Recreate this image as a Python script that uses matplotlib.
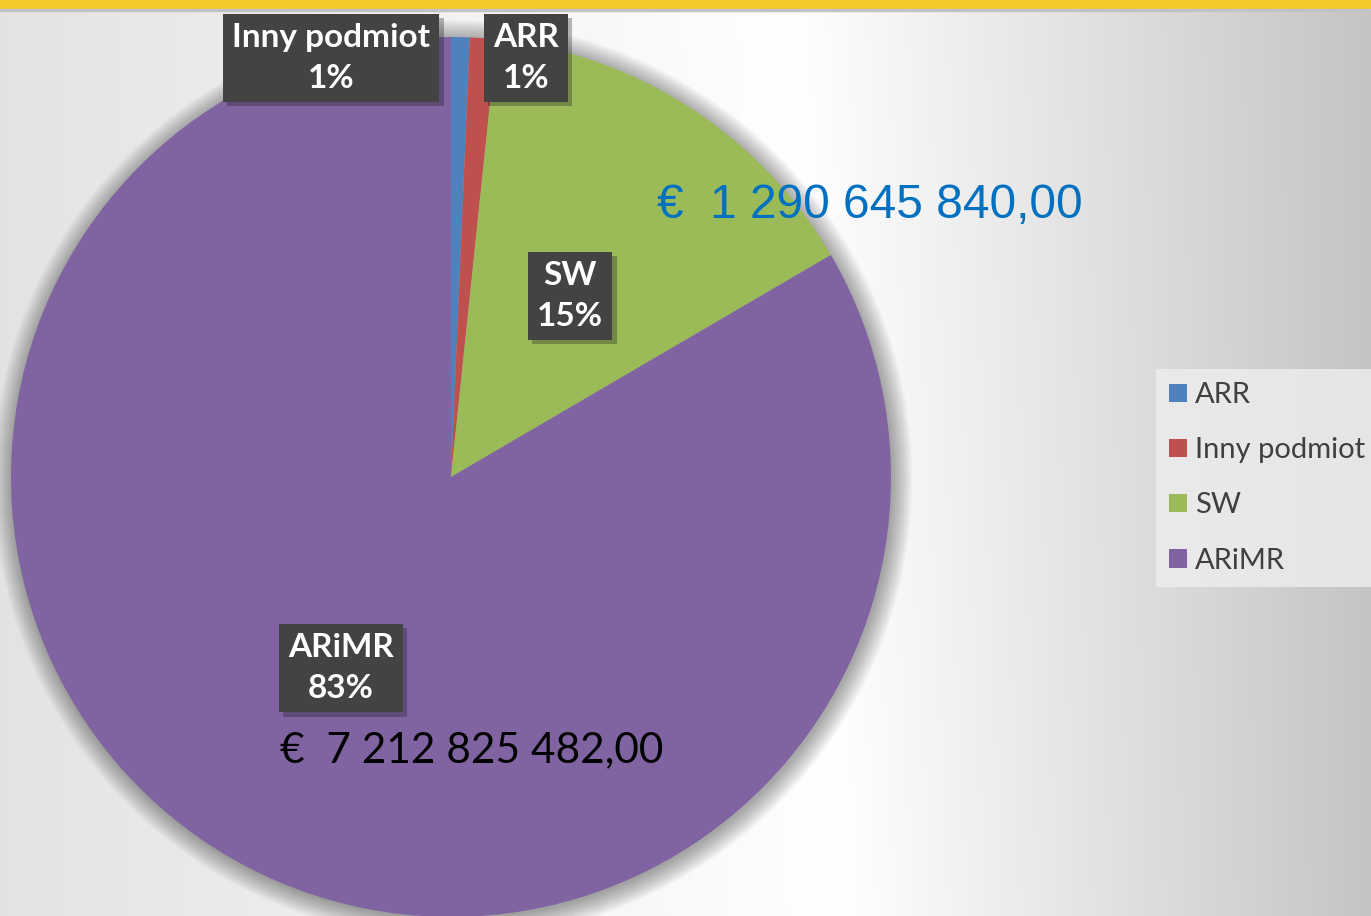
import numpy as np
import matplotlib
matplotlib.use("Agg")
import matplotlib.pyplot as plt
import matplotlib.patheffects as pe
from matplotlib.patches import Circle, Rectangle

# dane
kategorie = ['ARR', 'Inny podmiot', 'SW', 'ARiMR']
kwoty = [59_000_000, 84_000_000, 1_290_645_840, 7_212_825_482]
kolory = ['#4f81bd', '#c0504d', '#9bbb59', '#8064a2']
etykiety_proc = ['1%', '1%', '15%', '83%']
kwota_sw = '€  1 290 645 840,00'
kwota_arimr = '€  7 212 825 482,00'

W, H = 1371, 916
fig = plt.figure(figsize=(W/100, H/100), dpi=100)

# tlo : gradient szary -> bialy -> szary
bg = fig.add_axes([0, 0, 1, 1], zorder=-5)
xx, yy = np.meshgrid(np.arange(W), np.arange(H))
x_r = 790 + 0.06*yy
lewo = 1 - 0.11*(x_r - xx)/x_r
prawo = 1 - 0.23*(xx - x_r)/(W - x_r)
jasn = np.where(xx < x_r, lewo, prawo)
bg.imshow(np.dstack([jasn]*3), extent=(0, W, H, 0), aspect='auto')
# pasek zolty u gory
bg.add_patch(Rectangle((0, 0), W, 9, color='#f5c92a'))
bg.add_patch(Rectangle((0, 9), W, 1.5, color='#c2c2c2'))
bg.set_xlim(0, W)
bg.set_ylim(H, 0)
bg.axis('off')

# wykres kolowy
cx, cy, R = 451, 477, 440
ax = fig.add_axes([(cx-R)/W, (H-cy-R)/H, 2*R/W, 2*R/H])

# cien
for i in range(12):
    ax.add_patch(Circle((0.004, -0.006), 1.0 + i*0.004, color='#000000',
                        alpha=0.03, lw=0, zorder=0, clip_on=False))

wedges, _ = ax.pie(kwoty, colors=kolory, startangle=90, counterclock=False,
                   radius=1, wedgeprops=dict(linewidth=0, zorder=1))
# pie() ustawia swoje limity -> nadpisac
ax.set_xlim(-1, 1)
ax.set_ylim(-1, 1)
ax.axis('off')

def px(x, y):
    return ((x-cx)/R, (cy-y)/R)

# etykiety w ramkach (pozycje jak na oryginale)
pozycje = {'ARR': (526, 58), 'Inny podmiot': (331, 58), 'SW': (570, 296), 'ARiMR': (341, 668)}
for kat, proc in zip(kategorie, etykiety_proc):
    x, y = pozycje[kat]
    t = ax.text(*px(x, y), kat + '\n' + proc, ha='center', va='center', fontsize=24,
                fontweight='bold', family='Lato', color='white', linespacing=1.5, zorder=4,
                bbox=dict(boxstyle='square,pad=0.28', fc='#434343', ec='none'))
    t.get_bbox_patch().set_path_effects([pe.SimplePatchShadow(offset=(3, -3), alpha=0.3),
                                         pe.Normal()])

ax.text(*px(657, 205), kwota_sw, ha='left', va='center', fontsize=34.5,
        family='Liberation Sans', color='#0070c0', zorder=5)
ax.text(*px(280, 750), kwota_arimr, ha='left', va='center', fontsize=30.5,
        family='Lato', color='black', zorder=5)

leg = fig.legend(wedges, kategorie, loc='upper left',
                 bbox_to_anchor=(1156/W, 1-369/H), frameon=True,
                 facecolor='#eeeeee', edgecolor='none', fancybox=False, framealpha=0.8,
                 prop=dict(family='Lato', size=21), labelcolor='#404040',
                 handlelength=0.6, handleheight=0.6, handletextpad=0.3,
                 labelspacing=1.0, borderpad=0.45, borderaxespad=0)

fig.savefig('out.png', dpi=100)
